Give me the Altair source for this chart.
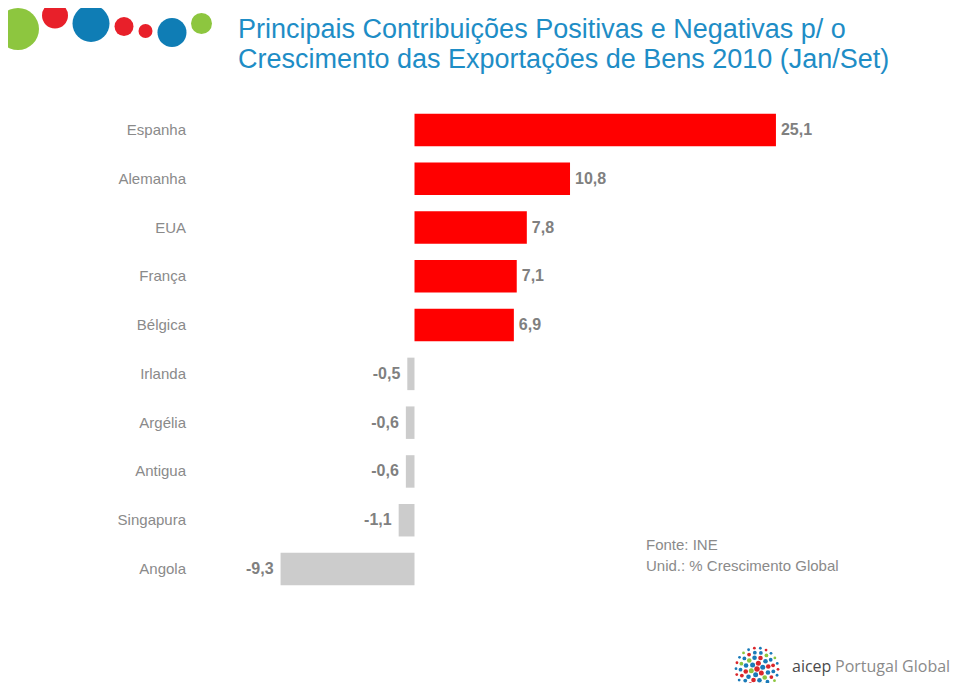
import math
import altair as alt
import pandas as pd

# ---------------- data ----------------
countries = ["Espanha", "Alemanha", "EUA", "França", "Bélgica",
             "Irlanda", "Argélia", "Antigua", "Singapura", "Angola"]
values = [25.1, 10.8, 7.8, 7.1, 6.9, -0.5, -0.6, -0.6, -1.1, -9.3]
labels = ["25,1", "10,8", "7,8", "7,1", "6,9", "-0,5", "-0,6", "-0,6", "-1,1", "-9,3"]

title_lines = ["Principais Contribuições Positivas e Negativas p/ o",
               "Crescimento das Exportações de Bens 2010 (Jan/Set)"]
source_lines = ["Fonte: INE", "Unid.: % Crescimento Global"]
logo_word1 = "aicep"
logo_word2 = "Portugal Global"

# decorative bubbles (page pixel centre, radius, colour)
bubble_x = [18, 55, 91, 124, 145.5, 172, 201.5]
bubble_y = [29, 15.5, 23.5, 26.5, 31, 32.5, 23.5]
bubble_r = [21, 13, 18.5, 9.5, 7, 14.5, 10.5]
bubble_c = ["#8DC63F", "#E8202A", "#0F7DB5", "#E8202A", "#E8202A", "#0F7DB5", "#8DC63F"]

OFF = 8  # page margin
FONT = "Liberation Sans"

df = pd.DataFrame({"country": countries, "value": values, "label": labels})
df["zero"] = 0.0

xs = alt.Scale(domain=[-28.229, 37.326], nice=False, zero=False)
ys = alt.Scale(domain=countries, range=[97.6, 585.4], paddingInner=0.334, paddingOuter=0.167)

Y = alt.Y("country:N", scale=ys, axis=None)

bars = alt.Chart(df).mark_bar().encode(
    x=alt.X("value:Q", scale=xs, axis=None),
    x2="zero:Q",
    y=Y,
    color=alt.condition("datum.value > 0", alt.value("#FF0000"), alt.value("#CCCCCC")),
)

cat_labels = alt.Chart(df).mark_text(
    align="right", baseline="middle", font=FONT, fontSize=15, color="#8A8A8A"
).encode(x=alt.value(186 - OFF), y=Y, text="country:N")

pos_labels = alt.Chart(df).transform_filter("datum.value > 0").mark_text(
    align="left", baseline="middle", dx=5, font=FONT, fontSize=16, fontWeight="bold", color="#808080"
).encode(x=alt.X("value:Q", scale=xs, axis=None), y=Y, text="label:N")

neg_labels = alt.Chart(df).transform_filter("datum.value < 0").mark_text(
    align="right", baseline="middle", dx=-7, font=FONT, fontSize=16, fontWeight="bold", color="#808080"
).encode(x=alt.X("value:Q", scale=xs, axis=None), y=Y, text="label:N")

# title
tdf = pd.DataFrame({"text": title_lines, "py": [38 - OFF, 68 - OFF]})
title = alt.Chart(tdf).mark_text(
    align="left", baseline="alphabetic", font=FONT, fontSize=27, color="#1E8DC6"
).encode(x=alt.value(238 - OFF), y=alt.Y("py:Q", scale=None, axis=None), text="text:N")

# source
sdf = pd.DataFrame({"text": source_lines, "py": [545 - OFF, 566 - OFF]})
source = alt.Chart(sdf).mark_text(
    align="left", baseline="middle", font=FONT, fontSize=15, color="#8A8A8A"
).encode(x=alt.value(646 - OFF), y=alt.Y("py:Q", scale=None, axis=None), text="text:N")

# bubbles (Vega symbol size = bounding-box area = diameter^2)
bdf = pd.DataFrame({
    "px": [v - OFF for v in bubble_x],
    "py": [v - OFF for v in bubble_y],
    "area": [(2 * r) ** 2 for r in bubble_r],
    "col": bubble_c,
})
bubbles = alt.Chart(bdf).mark_circle(opacity=1).encode(
    x=alt.X("px:Q", scale=None, axis=None),
    y=alt.Y("py:Q", scale=None, axis=None),
    size=alt.Size("area:Q", scale=None, legend=None),
    color=alt.Color("col:N", scale=None, legend=None),
)

# logo dot cluster (decoration)
cx, cy = 757, 669
rings = [(0, 1, 5.5), (6, 6, 5), (11.5, 12, 4.6), (16.5, 17, 3.8), (21, 22, 2.8)]
palette = ["#D9262B", "#1A7AB8", "#8CC63F", "#1A7AB8", "#D9262B", "#1A7AB8"]
lx, ly, la, lc = [], [], [], []
k = 0
for r, n, d in rings:
    for i in range(n):
        a = 2 * math.pi * i / n + r * 0.3
        lx.append(cx + r * math.cos(a) - OFF)
        ly.append(cy + r * math.sin(a) - OFF)
        la.append(d * d)
        lc.append(palette[k % len(palette)])
        k += 1
ldf = pd.DataFrame({"px": lx, "py": ly, "area": la, "col": lc})
logo_dots = alt.Chart(ldf).mark_circle(opacity=1).encode(
    x=alt.X("px:Q", scale=None, axis=None),
    y=alt.Y("py:Q", scale=None, axis=None),
    size=alt.Size("area:Q", scale=None, legend=None),
    color=alt.Color("col:N", scale=None, legend=None),
)

ltdf = pd.DataFrame({"text": [logo_word1, logo_word2], "px": [792 - OFF, 835 - OFF],
                     "col": ["#4A4A4A", "#8A8A8A"]})
logo_text = alt.Chart(ltdf).mark_text(
    align="left", baseline="alphabetic", font="Open Sans", fontSize=16
).encode(
    x=alt.X("px:Q", scale=None, axis=None),
    y=alt.value(672 - OFF),
    text="text:N",
    color=alt.Color("col:N", scale=None, legend=None),
)

chart = alt.layer(
    bubbles, title, bars, cat_labels, pos_labels, neg_labels, source, logo_dots, logo_text
).resolve_scale(
    x="independent", y="independent", size="independent", color="independent"
).properties(
    width=944, height=675, autosize=alt.AutoSizeParams(type="none"), padding=0
).configure_view(strokeWidth=0)

chart.save("out.html", embed_options={"renderer": "svg", "actions": False})
